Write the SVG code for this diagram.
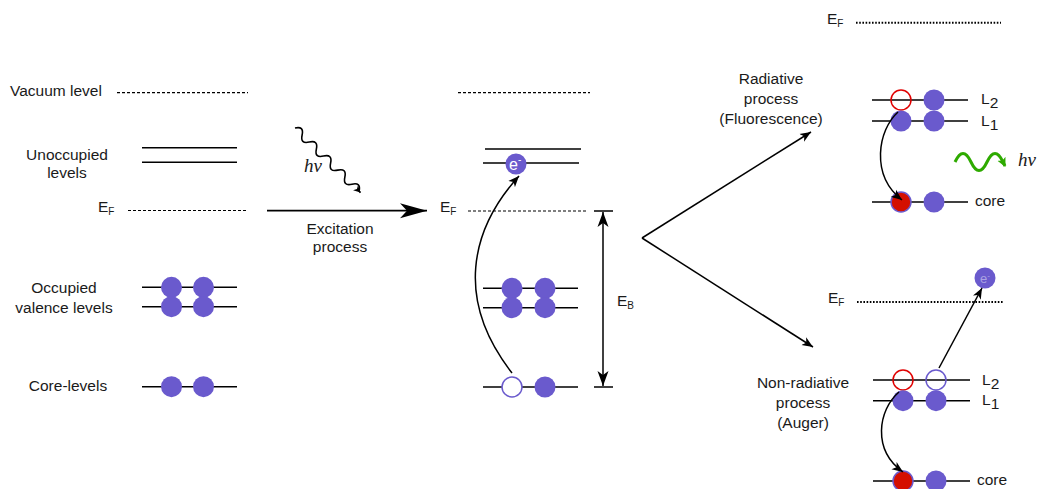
<svg xmlns="http://www.w3.org/2000/svg" width="1040" height="489" viewBox="0 0 1040 489">
<defs>
<style>
text{font-family:"Liberation Sans",Arial,sans-serif;font-size:15.5px;fill:#1a1a1a}
.c{text-anchor:middle}
.sub{font-size:10px}
.hv{font-family:"Liberation Serif","Times New Roman",serif;font-style:italic;font-size:19px}
.lvl{stroke:#000;stroke-width:1.5;fill:none}
.dash{stroke:#000;stroke-width:1.2;stroke-dasharray:3 2;fill:none}
.dot{stroke:#000;stroke-width:2;stroke-dasharray:1.6 1.6;fill:none}
.el{fill:#6a5acd}
.hole{fill:#fff;stroke:#6a5acd;stroke-width:1.5}
.holer{fill:none;stroke:#e00000;stroke-width:1.5}
.holeb{fill:none;stroke:#6a5acd;stroke-width:1.5}
.red{fill:#d40f00;stroke:#6a5acd;stroke-width:1.5}
.arr{stroke:#000;stroke-width:1.5;fill:none}
</style>
<marker id="big" markerUnits="userSpaceOnUse" markerWidth="28" markerHeight="16" refX="27" refY="8" orient="auto">
<path d="M0,0.5 L27,8 L0,15.5 L7,8 z" fill="#000"/>
</marker>
<marker id="sm" markerUnits="userSpaceOnUse" markerWidth="12" markerHeight="10" refX="11" refY="5" orient="auto">
<path d="M0,0.5 L11,5 L0,9.5 L3,5 z" fill="#000"/>
</marker>
<marker id="eb" markerUnits="userSpaceOnUse" markerWidth="16" markerHeight="12" refX="15" refY="6" orient="auto-start-reverse">
<path d="M0,0.5 L15,6 L0,11.5 L4,6 z" fill="#000"/>
</marker>
<marker id="tiny" markerUnits="userSpaceOnUse" markerWidth="8" markerHeight="8" refX="7" refY="4" orient="auto">
<path d="M0,0.5 L7,4 L0,7.5 L2,4 z" fill="#000"/>
</marker>
<marker id="grn" markerUnits="userSpaceOnUse" markerWidth="10" markerHeight="10" refX="8" refY="5" orient="auto">
<path d="M0,0.5 L9,5 L0,9.5 L2,5 z" fill="#2eaa00"/>
</marker>
</defs>

<g id="left-labels">
<text x="10" y="96">Vacuum level</text>
<text class="c" x="67" y="160">Unoccupied</text>
<text class="c" x="67" y="178">levels</text>
<text x="98" y="212">E<tspan class="sub" dy="3">F</tspan></text>
<text class="c" x="64" y="293">Occupied</text>
<text class="c" x="64" y="313">valence levels</text>
<text class="c" x="68" y="391">Core-levels</text>
</g>

<g id="left-levels">
<line class="dash" x1="117" y1="92.7" x2="248" y2="92.7"/>
<line class="lvl" x1="142" y1="147.7" x2="237" y2="147.7"/>
<line class="lvl" x1="142" y1="162.3" x2="237" y2="162.3"/>
<line class="dash" x1="128" y1="210.5" x2="246" y2="210.5"/>
<line class="lvl" x1="142" y1="287.3" x2="237" y2="287.3"/>
<line class="lvl" x1="142" y1="306.7" x2="237" y2="306.7"/>
<line class="lvl" x1="142" y1="386.7" x2="237" y2="386.7"/>
<circle class="el" cx="171.5" cy="287.3" r="10.5"/>
<circle class="el" cx="203.5" cy="287.3" r="10.5"/>
<circle class="el" cx="171.5" cy="306.7" r="10.5"/>
<circle class="el" cx="203.5" cy="306.7" r="10.5"/>
<circle class="el" cx="171.5" cy="386.7" r="10.5"/>
<circle class="el" cx="203.5" cy="386.7" r="10.5"/>
</g>

<g id="photon">
<path transform="translate(295,128) rotate(44.6)" d="M0,0 q5,-8 10,0 t10,0 t10,0 t10,0 t10,0 t10,0 t10,0 t10,0 t10,0 l2,0" fill="none" stroke="#000" stroke-width="1.6" marker-end="url(#tiny)"/>
<text class="hv" x="304" y="172">hν</text>
</g>

<g id="excitation">
<text class="c" x="340" y="234">Excitation</text>
<text class="c" x="340" y="252">process</text>
</g>

<g id="middle-levels">
<line class="dash" x1="458" y1="92.7" x2="590" y2="92.7"/>
<line class="lvl" x1="485" y1="149" x2="581" y2="149"/>
<line class="lvl" x1="483" y1="163" x2="579" y2="163"/>
<text x="440" y="212">E<tspan class="sub" dy="3">F</tspan></text>
<line class="dash" x1="468" y1="211" x2="588" y2="211"/>
<line class="lvl" x1="483" y1="288.3" x2="578" y2="288.3"/>
<line class="lvl" x1="483" y1="307.7" x2="578" y2="307.7"/>
<line class="lvl" x1="483" y1="387" x2="578" y2="387"/>
<circle class="el" cx="512" cy="288.3" r="10.5"/>
<circle class="el" cx="545" cy="288.3" r="10.5"/>
<circle class="el" cx="512" cy="307.7" r="10.5"/>
<circle class="el" cx="545" cy="307.7" r="10.5"/>
<circle class="hole" cx="512" cy="387" r="10"/>
<circle class="el" cx="545" cy="387" r="10.5"/>
<circle class="el" cx="516" cy="164" r="10.5"/>
<text x="509" y="170" style="fill:#fff;font-size:16px">e<tspan style="font-size:10px" dy="-7">-</tspan></text>
</g>

<g id="binding-energy">
<line class="lvl" x1="594" y1="211" x2="613" y2="211"/>
<line class="lvl" x1="594" y1="387" x2="613" y2="387"/>
<text x="617" y="306">E<tspan class="sub" dy="3">B</tspan></text>
</g>

<g id="radiative">
<text x="827" y="24">E<tspan class="sub" dy="3">F</tspan></text>
<line class="dot" x1="856" y1="22.7" x2="1001" y2="22.7"/>
<text class="c" x="771" y="84">Radiative</text>
<text class="c" x="771" y="104">process</text>
<text class="c" x="771" y="124">(Fluorescence)</text>
<line class="lvl" x1="872" y1="100" x2="968" y2="100"/>
<line class="lvl" x1="872" y1="121" x2="968" y2="121"/>
<line class="lvl" x1="872" y1="202" x2="968" y2="202"/>
<circle class="holer" cx="901" cy="100" r="10"/>
<circle class="el" cx="934" cy="100" r="10.5"/>
<circle class="el" cx="901" cy="121" r="10.5"/>
<circle class="el" cx="934" cy="121" r="10.5"/>
<circle class="red" cx="901" cy="202" r="10"/>
<circle class="el" cx="934" cy="202" r="10.5"/>
<text x="981" y="104">L<tspan dy="4">2</tspan></text>
<text x="981" y="126">L<tspan dy="4">1</tspan></text>
<text x="975" y="206">core</text>
<path d="M955,162 q8,-17 16,0 t16,0 t16,0 l2,4" fill="none" stroke="#2eaa00" stroke-width="3" marker-end="url(#grn)"/>
<text class="hv" x="1018" y="166">hν</text>
</g>

<g id="auger">
<text x="828" y="303">E<tspan class="sub" dy="3">F</tspan></text>
<line class="dot" x1="857" y1="302" x2="1003" y2="302"/>
<text class="c" x="803" y="388">Non-radiative</text>
<text class="c" x="803" y="408">process</text>
<text class="c" x="803" y="428">(Auger)</text>
<line class="lvl" x1="873" y1="380" x2="970" y2="380"/>
<line class="lvl" x1="873" y1="400.7" x2="970" y2="400.7"/>
<line class="lvl" x1="873" y1="481" x2="970" y2="481"/>
<circle class="holer" cx="903" cy="380" r="10"/>
<circle class="holeb" cx="936" cy="380" r="10"/>
<circle class="el" cx="903" cy="400.7" r="10.5"/>
<circle class="el" cx="936" cy="400.7" r="10.5"/>
<circle class="red" cx="903" cy="481" r="10"/>
<circle class="el" cx="936" cy="481" r="10.5"/>
<circle class="el" cx="985" cy="278" r="10.5"/>
<text x="980" y="283" style="fill:#fff;fill-opacity:0.45;font-size:13px">e<tspan style="font-size:8px" dy="-5">-</tspan></text>
<text x="982" y="385">L<tspan dy="4">2</tspan></text>
<text x="982" y="405">L<tspan dy="4">1</tspan></text>
<text x="977" y="485">core</text>
</g>

<g id="connectors">
<line x1="267" y1="210.7" x2="427" y2="210.7" stroke="#000" stroke-width="1.8" marker-end="url(#big)"/>
<path class="arr" d="M512,373 C455,300 470,230 519,176" marker-end="url(#sm)"/>
<line class="arr" x1="603" y1="212" x2="603" y2="386" stroke-width="2" marker-start="url(#eb)" marker-end="url(#eb)"/>
<line class="arr" x1="642" y1="238" x2="811" y2="132" stroke-width="1.3" marker-end="url(#sm)"/>
<line class="arr" x1="642" y1="238" x2="813" y2="347" stroke-width="1.3" marker-end="url(#sm)"/>
<path class="arr" d="M898,112 C878,130 870,175 902,200" stroke-width="2" marker-end="url(#sm)"/>
<path class="arr" d="M899,392 C878,410 872,450 903,472" stroke-width="2" marker-end="url(#sm)"/>
<line class="arr" x1="939" y1="368" x2="982" y2="288" marker-end="url(#sm)"/>
</g>
</svg>
